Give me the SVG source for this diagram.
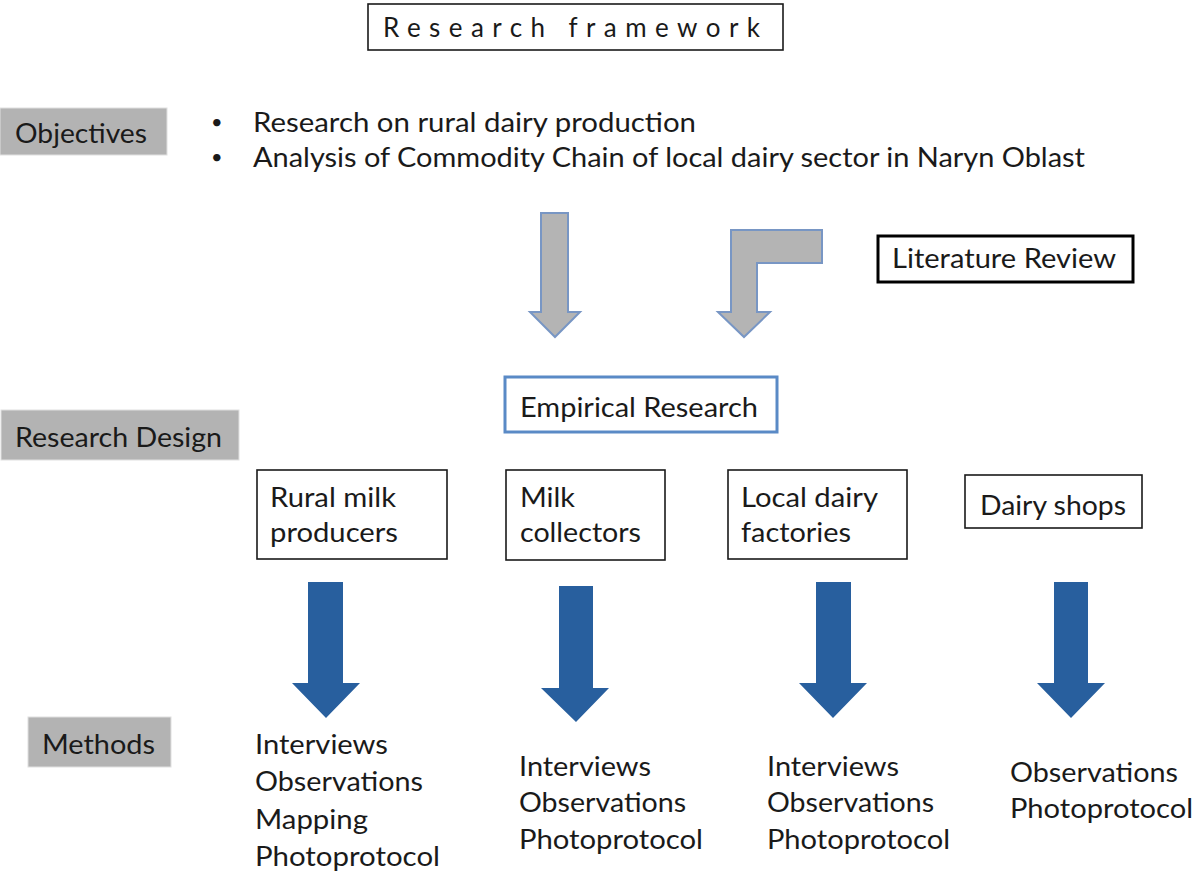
<svg xmlns="http://www.w3.org/2000/svg" width="1197" height="871" viewBox="0 0 1197 871">
<style>
text{font-family:Lato,"Open Sans","Liberation Sans",sans-serif;font-size:26px;fill:#1a1a1a}
.bul{font-size:20px}
.lab{fill:#b3b3b3;stroke:#e0e0e0;stroke-width:1}
.box{fill:#fff;stroke:#1a1a1a;stroke-width:1.6}
.garrow{fill:#b4b4b4;stroke:#7896c4;stroke-width:2;stroke-linejoin:miter}
.barrow{fill:#285f9e}
</style>
<rect width="1197" height="871" fill="#fff"/>
<g id="title">
<rect class="box" x="368" y="4" width="415" height="46"/>
<text x="383" y="37" textLength="384" lengthAdjust="spacing" style="letter-spacing:7px">Research framework</text>
</g>
<g id="objectives">
<rect class="lab" x="0" y="108" width="167" height="47"/>
<text x="15" y="143" textLength="132" lengthAdjust="spacingAndGlyphs">Objectives</text>
</g>
<g id="objectives-list">
<text class="bul" x="211" y="129">•</text>
<text x="253" y="132" textLength="443" lengthAdjust="spacingAndGlyphs">Research on rural dairy production</text>
<text class="bul" x="211" y="164">•</text>
<text x="253" y="167" textLength="832" lengthAdjust="spacingAndGlyphs">Analysis of Commodity Chain of local dairy sector in Naryn Oblast</text>
</g>
<g id="literature">
<rect x="878" y="236" width="255" height="46" fill="#fff" stroke="#000" stroke-width="3"/>
<text x="892" y="268" textLength="224" lengthAdjust="spacingAndGlyphs">Literature Review</text>
</g>
<g id="empirical">
<rect x="505" y="377" width="272" height="55" fill="#fff" stroke="#5a8ac6" stroke-width="3"/>
<text x="520" y="417" textLength="238" lengthAdjust="spacingAndGlyphs">Empirical Research</text>
</g>
<g id="research-design">
<rect class="lab" x="1" y="410" width="238" height="50"/>
<text x="15" y="447" textLength="207" lengthAdjust="spacingAndGlyphs">Research Design</text>
</g>
<g id="producers">
<rect class="box" x="257" y="470" width="190" height="89"/>
<text x="270" y="507" textLength="126" lengthAdjust="spacingAndGlyphs">Rural milk</text>
<text x="270" y="542" textLength="128" lengthAdjust="spacingAndGlyphs">producers</text>
</g>
<g id="collectors">
<rect class="box" x="506" y="470" width="159" height="90"/>
<text x="520" y="507" textLength="55" lengthAdjust="spacingAndGlyphs">Milk</text>
<text x="520" y="542" textLength="121" lengthAdjust="spacingAndGlyphs">collectors</text>
</g>
<g id="factories">
<rect class="box" x="728" y="470" width="179" height="89"/>
<text x="741" y="507" textLength="137" lengthAdjust="spacingAndGlyphs">Local dairy</text>
<text x="741" y="542" textLength="110" lengthAdjust="spacingAndGlyphs">factories</text>
</g>
<g id="shops">
<rect class="box" x="965" y="475" width="177" height="53"/>
<text x="980" y="515" textLength="146" lengthAdjust="spacingAndGlyphs">Dairy shops</text>
</g>
<g id="methods">
<rect class="lab" x="28" y="717" width="143" height="50"/>
<text x="42" y="754" textLength="113" lengthAdjust="spacingAndGlyphs">Methods</text>
</g>
<g id="methods-producers">
<text x="255" y="754" textLength="133" lengthAdjust="spacingAndGlyphs">Interviews</text>
<text x="255" y="791" textLength="168" lengthAdjust="spacingAndGlyphs">Observations</text>
<text x="255" y="829" textLength="113" lengthAdjust="spacingAndGlyphs">Mapping</text>
<text x="255" y="866" textLength="185" lengthAdjust="spacingAndGlyphs">Photoprotocol</text>
</g>
<g id="methods-collectors">
<text x="519" y="776" textLength="132" lengthAdjust="spacingAndGlyphs">Interviews</text>
<text x="519" y="812" textLength="167" lengthAdjust="spacingAndGlyphs">Observations</text>
<text x="519" y="849" textLength="184" lengthAdjust="spacingAndGlyphs">Photoprotocol</text>
</g>
<g id="methods-factories">
<text x="767" y="776" textLength="132" lengthAdjust="spacingAndGlyphs">Interviews</text>
<text x="767" y="812" textLength="167" lengthAdjust="spacingAndGlyphs">Observations</text>
<text x="767" y="849" textLength="183" lengthAdjust="spacingAndGlyphs">Photoprotocol</text>
</g>
<g id="methods-shops">
<text x="1010" y="782" textLength="168" lengthAdjust="spacingAndGlyphs">Observations</text>
<text x="1010" y="818" textLength="183" lengthAdjust="spacingAndGlyphs">Photoprotocol</text>
</g>
<g id="connectors">
<polygon class="garrow" points="541,213 568,213 568,312 580,312 555,337 530,312 541,312"/>
<polygon class="garrow" points="731,230 822,230 822,263 757,263 757,312 770,312 744,337 718,312 731,312"/>
<polygon class="barrow" points="308,582 343,582 343,683 360,683 326,718 292,683 308,683"/>
<polygon class="barrow" points="559,586 593,586 593,688 609,688 576,722 541,688 559,688"/>
<polygon class="barrow" points="816,582 851,582 851,683 867,683 833,718 799,683 816,683"/>
<polygon class="barrow" points="1054,582 1088,582 1088,683 1105,683 1071,718 1037,683 1054,683"/>
</g>
</svg>
